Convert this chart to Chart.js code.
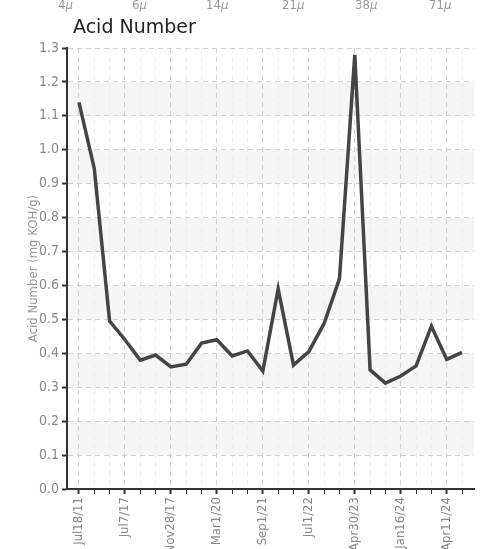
<!DOCTYPE html>
<html>
<head>
<meta charset="utf-8">
<script src="https://cdn.jsdelivr.net/npm/chart.js@4/dist/chart.umd.min.js"></script>
<style>
  body { margin: 0; background: #fff; }
  #wrap { position: relative; width: 498px; height: 549px; overflow: hidden; }
  #myPlot { position: absolute; left: 0; top: 0; }
  .top { position: absolute; top: -3px; font: 13px "DejaVu Sans Condensed", sans-serif; color: #999; }
  .top i { font-style: italic; }
  #title { position: absolute; left: 73px; top: 15px; font: 19px "DejaVu Sans", sans-serif; color: #222; }
</style>
</head>
<body>
<div id="wrap">
  <canvas id="myPlot" width="498" height="549"></canvas>
  <div id="title">Acid Number</div>
</div>
<script>
// strip of the chart above, cut off at the top
const topLabels = ["4", "6", "14", "21", "38", "71"];
const topX = [58, 132, 206, 282, 355, 429];

// every third sample gets a date label
const sampleDates = ["Jul18/11", "Jul7/17", "Nov28/17", "Mar1/20", "Sep1/21", "Jul1/22", "Apr30/23", "Jan16/24", "Apr11/24"];
const acidValues = [1.14, 0.945, 0.495, 0.44, 0.38, 0.395, 0.36, 0.368, 0.43, 0.44, 0.392, 0.407, 0.348,
                    0.59, 0.365, 0.405, 0.488, 0.62, 1.28, 0.351, 0.312, 0.333, 0.363, 0.48, 0.382, 0.403];
const yTicks = [0, 0.1, 0.2, 0.3, 0.4, 0.5, 0.6, 0.7, 0.8, 0.9, 1.0, 1.1, 1.2, 1.3];

const wrap = document.getElementById("wrap");
for (let i = 0; i < topLabels.length; i++) {
  const d = document.createElement("div");
  d.className = "top";
  d.style.left = topX[i] + "px";
  d.innerHTML = topLabels[i] + "<i>\u03bc</i>";
  wrap.appendChild(d);
}

const tickFont = { family: "'DejaVu Sans Condensed', sans-serif", size: 13 };

// light grey band on every other 0.1 step
const bands = {
  id: "bands",
  beforeDraw(chart) {
    const ctx = chart.ctx;
    const area = chart.chartArea;
    const y = chart.scales.y;
    ctx.save();
    ctx.fillStyle = "#f5f5f5";
    for (let i = 1; i < yTicks.length - 1; i += 2) {
      const top = y.getPixelForValue(yTicks[i + 1]);
      const bottom = y.getPixelForValue(yTicks[i]);
      ctx.fillRect(area.left, top, area.right - area.left, bottom - top);
    }
    ctx.restore();
  }
};

new Chart("myPlot", {
  type: "line",
  data: {
    datasets: [{
      data: acidValues.map((v, i) => ({ x: i, y: v })),
      borderColor: "#444",
      borderWidth: 3.5,
      pointRadius: 0,
      tension: 0,
      fill: false
    }]
  },
  options: {
    responsive: false,
    animation: false,
    layout: { padding: { top: 48, right: 24, left: 0, bottom: 0 } },
    plugins: { legend: { display: false }, tooltip: { enabled: false } },
    scales: {
      x: {
        type: "linear",
        min: -0.78,
        max: acidValues.length - 1 + 0.78,
        afterFit(s) { s.height = 60; },
        ticks: {
          stepSize: 1,
          includeBounds: false,
          autoSkip: false,
          minRotation: 90,
          maxRotation: 90,
          padding: 3,
          color: "#888",
          font: tickFont,
          callback: v => (v % 3 === 0 ? sampleDates[v / 3] : "")
        },
        grid: {
          color: c => (c.tick && c.tick.value % 3 === 0 ? "#d0d0d0" : "#ececec"),
          tickColor: "#333",
          tickLength: 5,
          tickWidth: c => (c.tick && c.tick.value % 3 === 0 ? 2 : 1)
        },
        border: { color: "#333", width: 2, dash: [5, 4] }
      },
      y: {
        min: 0,
        max: 1.3,
        afterFit(s) { s.width = 67; },
        afterBuildTicks(s) { s.ticks = yTicks.map(v => ({ value: v })); },
        title: {
          display: true,
          text: "Acid Number (mg KOH/g)",
          color: "#999",
          font: { family: tickFont.family, size: 13 },
          padding: { top: 26, bottom: 0 }
        },
        ticks: { color: "#888", font: { family: tickFont.family, size: 14 }, padding: 3, callback: v => v.toFixed(1) },
        grid: { color: "#d0d0d0", tickColor: "#333", tickLength: 5, tickWidth: 2 },
        border: { color: "#333", width: 2, dash: [5, 4] }
      }
    }
  },
  plugins: [bands]
});
</script>
</body>
</html>
